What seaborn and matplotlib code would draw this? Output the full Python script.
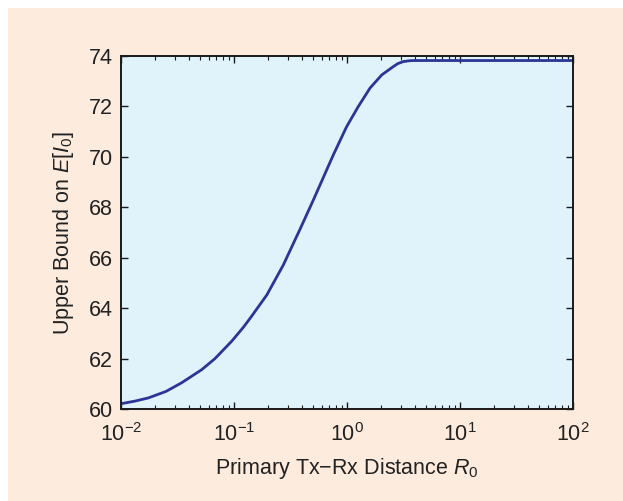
import matplotlib
matplotlib.use("Agg")
import matplotlib.pyplot as plt
from matplotlib.patches import Rectangle
from matplotlib.ticker import LogLocator
import seaborn as sns
import pandas as pd

# Data
distance = [0.01, 0.0132, 0.0175, 0.0251, 0.0344, 0.0518, 0.0679, 0.0955,
            0.121, 0.139, 0.195, 0.273, 0.347, 0.384, 0.504, 0.757, 0.993,
            1.26, 1.60, 2.03, 2.57, 2.82, 3.16, 3.55, 3.84, 10.0, 100.0]
upper_bound = [60.21, 60.31, 60.44, 60.7, 61.04, 61.56, 62.0, 62.69,
               63.24, 63.6, 64.52, 65.71, 66.71, 67.13, 68.29, 70.08, 71.20,
               72.0, 72.73, 73.25, 73.58, 73.7, 73.78, 73.81, 73.82, 73.82, 73.82]
y_ticks = [60, 62, 64, 66, 68, 70, 72, 74]

df = pd.DataFrame({"R0": distance, "EI0": upper_bound})

sns.set_theme(style="ticks")
plt.rcParams["font.family"] = ["Liberation Sans", "DejaVu Sans"]
plt.rcParams["mathtext.fontset"] = "custom"
plt.rcParams["mathtext.rm"] = "Liberation Sans"
plt.rcParams["mathtext.it"] = "Liberation Sans:italic"
plt.rcParams["mathtext.bf"] = "Liberation Sans:bold"

fig = plt.figure(figsize=(6.23, 5.01), dpi=100, facecolor="white")
fig.patches.append(Rectangle((8 / 623, -0.01), 1.0, 1.01 - 8 / 501,
                             transform=fig.transFigure, facecolor="#fdebdd",
                             edgecolor="none", zorder=-10))
ax = fig.add_axes([121 / 623, 1 - 409 / 501, (573 - 121) / 623, (409 - 56) / 501])
ax.set_facecolor("#e0f2fa")

sns.lineplot(data=df, x="R0", y="EI0", ax=ax, color="#2a3595", linewidth=2.0,
             estimator=None, sort=True)
ax.set_xscale("log")
ax.set_xlim(1e-2, 1e2)
ax.set_ylim(60, 74)
ax.set_yticks(y_ticks)
ax.set_yticklabels([str(v) for v in y_ticks])
ax.xaxis.set_minor_locator(LogLocator(base=10, subs=range(2, 10), numticks=20))

for s in ax.spines.values():
    s.set_visible(True)
    s.set_color("#1a1a1a")
    s.set_linewidth(1.4)

ax.tick_params(which="both", direction="in", top=True, right=True,
               colors="#1a1a1a", labelcolor="#222222", labelsize=15.5)
ax.tick_params(which="major", length=5, width=1.0)
ax.tick_params(axis="y", which="major", pad=6)
ax.tick_params(axis="x", which="major", pad=10)
ax.tick_params(which="minor", length=3, width=0.8)

ax.set_xlabel(r"Primary Tx$-$Rx Distance $R_0$", fontsize=15.5, color="#222222", labelpad=7)
ax.set_ylabel(r"Upper Bound on $E[I_0]$", fontsize=15.5, color="#222222", labelpad=9)

fig.savefig("out.png", dpi=100, facecolor=fig.get_facecolor())
